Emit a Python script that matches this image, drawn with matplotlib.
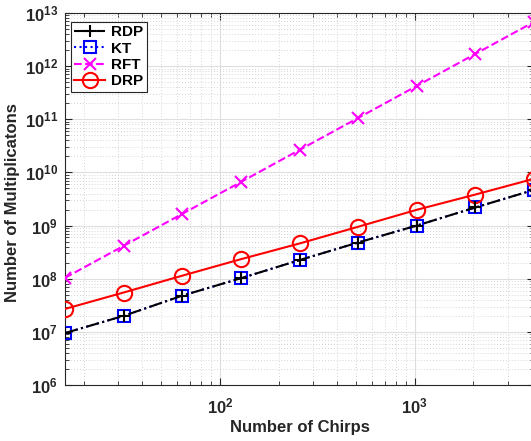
import matplotlib
matplotlib.use("Agg")
import matplotlib.pyplot as plt
import numpy as np
from matplotlib.ticker import LogLocator, NullFormatter

plt.rcParams["font.family"] = ["Liberation Sans", "DejaVu Sans"]
plt.rcParams["font.weight"] = "bold"

# data
chirps = [16, 32, 64, 128, 256, 512, 1024, 2048, 4096]
rdp = [9.5e6, 2.0e7, 4.8e7, 1.02e8, 2.24e8, 4.8e8, 1.0e9, 2.19e9, 4.7e9]
kt = [9.5e6, 2.0e7, 4.8e7, 1.02e8, 2.24e8, 4.8e8, 1.0e9, 2.19e9, 4.7e9]
rft = [1.04e8, 4.15e8, 1.66e9, 6.6e9, 2.65e10, 1.06e11, 4.24e11, 1.7e12, 6.8e12]
drp = [2.7e7, 5.5e7, 1.14e8, 2.33e8, 4.6e8, 9.5e8, 1.98e9, 3.84e9, 7.6e9]

fig = plt.figure(figsize=(5.31, 4.41), dpi=100)
ax = fig.add_axes([65 / 531, 1 - 385 / 441, 469 / 531, 372 / 441])

h_kt, = ax.plot(chirps, kt, ":", color="blue", marker="s", markersize=8,
                markerfacecolor="none", markeredgewidth=1.5, linewidth=1.5,
                label="KT", zorder=3)
h_rdp, = ax.plot(chirps, rdp, "-.", color="black", marker="+", markersize=9,
                 markeredgewidth=1.5, linewidth=1.5, label="RDP", zorder=4)
h_rft, = ax.plot(chirps, rft, "--", color="magenta", marker="x", markersize=9,
                 markeredgewidth=1.5, linewidth=1.5, label="RFT", zorder=3)
h_drp, = ax.plot(chirps, drp, "-", color="red", marker="o", markersize=11,
                 markerfacecolor="none", markeredgewidth=1.5, linewidth=1.5,
                 label="DRP", zorder=3)

ax.set_xscale("log")
ax.set_yscale("log")
ax.set_xlim(16, 4096)
ax.set_ylim(1e6, 1e13)

ax.yaxis.set_major_locator(LogLocator(base=10, numticks=20))
ax.yaxis.set_minor_locator(LogLocator(base=10, subs=np.arange(2, 10), numticks=20))
ax.yaxis.set_minor_formatter(NullFormatter())
ax.xaxis.set_minor_locator(LogLocator(base=10, subs=np.arange(2, 10), numticks=20))
ax.xaxis.set_minor_formatter(NullFormatter())

ax.grid(True, which="major", color="0.87", linewidth=0.8, linestyle="-")
ax.grid(True, which="minor", color="0.78", linewidth=0.6, linestyle=(0, (1, 2.5)))
ax.set_axisbelow(True)

ax.tick_params(which="both", direction="in", top=True, right=True,
               colors="0.15", labelsize=12)
ax.tick_params(axis="x", which="major", pad=8)
ax.tick_params(axis="y", which="major", pad=5)
ax.tick_params(which="major", length=5, width=0.8)
ax.tick_params(which="minor", length=3, width=0.6)
for s in ax.spines.values():
    s.set_color("0.15")
    s.set_linewidth(0.8)

ax.set_xlabel("Number of Chirps", fontsize=12, fontweight="bold", color="0.15",
              labelpad=3)
ax.set_ylabel("Number of Multiplicatons", fontsize=12, fontweight="bold",
              color="0.15")
ax.yaxis.set_label_coords(-0.095, 0.49)

leg = ax.legend(handles=[h_rdp, h_kt, h_rft, h_drp], loc="upper left",
                bbox_to_anchor=(0.012, 0.977), fontsize=11, handlelength=2.0,
                handletextpad=0.4, borderpad=0.25, labelspacing=0.15,
                borderaxespad=0, fancybox=False, framealpha=1, edgecolor="0.15")
leg.get_frame().set_linewidth(0.8)

fig.savefig("out.png", dpi=100, facecolor="white")
